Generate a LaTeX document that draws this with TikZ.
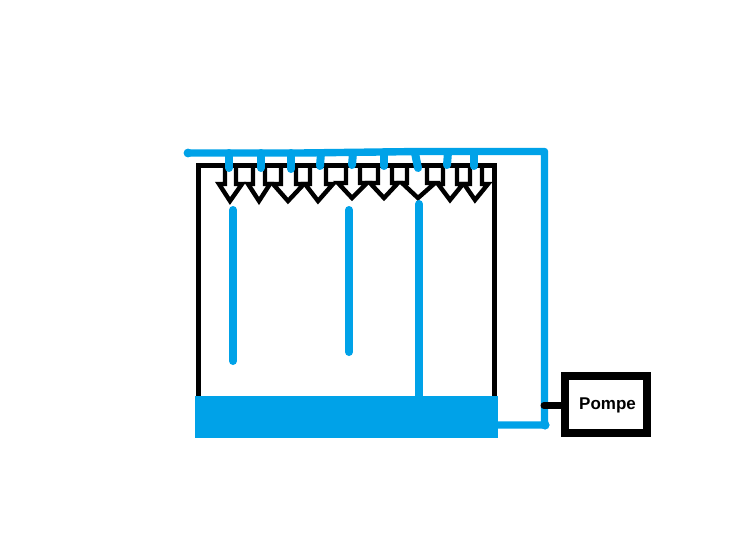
\documentclass[tikz,border=0pt]{standalone}
\usepackage{fontspec}
\setmainfont{Open Sans}[BoldFont={Open Sans Bold}]
\newfontfamily\pompefont{Liberation Sans}
\definecolor{eau}{HTML}{00A2E8}
\tikzset{
  cuve/.style={draw=black,line width=5pt,line cap=butt,line join=miter},
  jet/.style={draw=black,line width=4.4pt,line join=miter,line cap=butt,fill=white},
  pipe/.style={draw=eau,line width=7.4pt,line cap=round,line join=round},
  stub/.style={draw=eau,line width=8pt,line cap=round},
  drop/.style={draw=eau,line width=8pt,line cap=round},
  pompebox/.style={draw=black,line width=8pt,fill=white,minimum width=82pt,minimum height=57pt,inner sep=0pt},
  pompetext/.style={font=\pompefont\bfseries\fontsize{17pt}{19pt}\selectfont,inner sep=0pt},
}
\begin{document}
\begin{tikzpicture}[x=1pt,y=-1pt]
\useasboundingbox (0,0) rectangle (738,535);
\fill[white] (0,0) rectangle (738,535);
% block arrows: shaft left, shaft right, wing left, wing right, wing y, tip x, tip y
\foreach \a/\b/\l/\r/\w/\t/\y in {
  225/236/219/242/184/230/201,
  253/265/248/270/184/259/201,
  281/296/273/304/184/288/201,
  310/326/305/333/184/318/201,
  346/360/338/367/183/352/198,
  378/392/370/398/183/384/198,
  407/427/402/435/183/418/198,
  443/457/438/463/184/450/200,
  470/482/464/488/184/475/200}{
  \draw[jet] (\a,165) -- (\a,\w) -- (\l,\w) -- (\t,\y) -- (\r,\w) -- (\b,\w) -- (\b,165);
}
% tank
\draw[cuve] (198,398) -- (198,165) -- (494,165) -- (494,398);
% water falling
\draw[drop] (233,210) -- (233,361);
\draw[drop] (349,210) -- (349,352);
\draw[drop] (419,204) -- (419,398);
% reservoir
\fill[eau] (195,396) rectangle (498,438);
% pipes
\draw[pipe] (188,153) -- (300,153) -- (420,151.5) -- (544.5,151.5) -- (544.5,425) -- (497,425);
\fill[eau] (188,153) circle (4.4pt);
\fill[eau] (545,425) circle (4.6pt);
% nozzles
\draw[stub] (229,153) -- (229,168);
\draw[stub] (261,153) -- (261,168);
\draw[stub] (291,153) -- (291,169);
\draw[stub] (321,153) -- (320,166);
\draw[stub] (353,153) -- (352,165);
\draw[stub] (384,152) -- (384,166);
\draw[stub] (415,153) -- (418,168);
\draw[stub] (448,152) -- (447,165);
\draw[stub] (474,152) -- (474,166);
% pump
\node[pompebox] (pompe) at (606,404.5) {};
\node[pompetext] (pompelabel) at (607.5,405) {Pompe};
\coordinate (raccord) at (544,405.5);
\draw[black,line width=7pt,line cap=round] (raccord) -- (raccord -| pompe.west);
\end{tikzpicture}
\end{document}
